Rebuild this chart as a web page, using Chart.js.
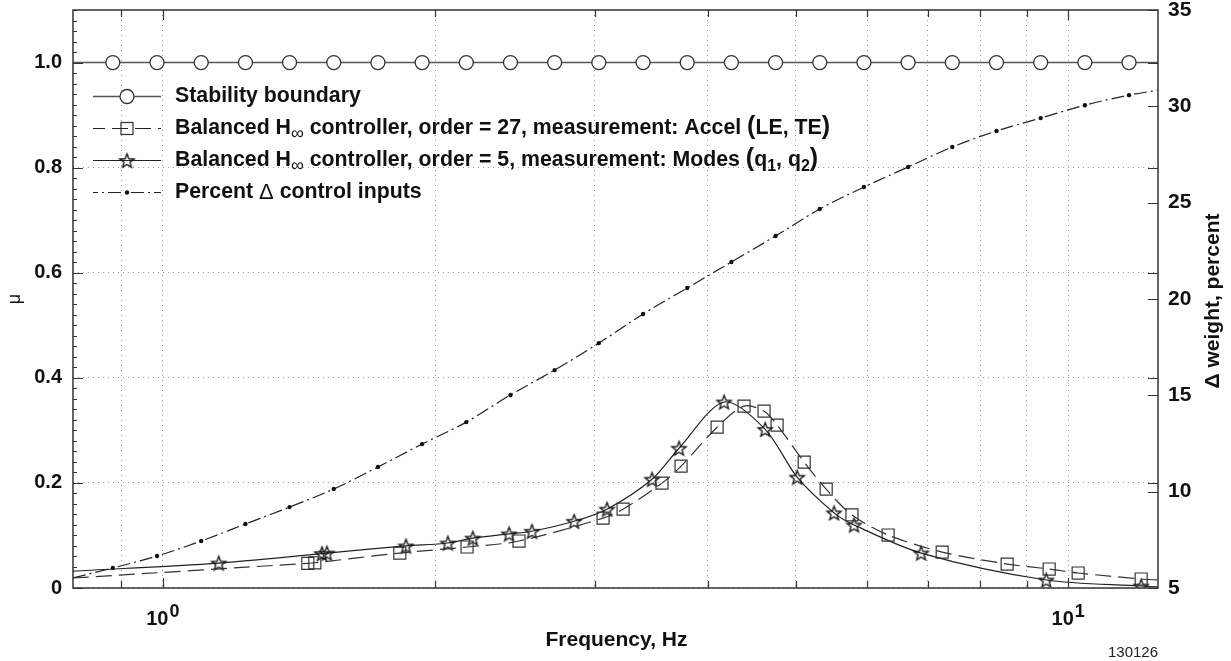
<!DOCTYPE html>
<html><head><meta charset="utf-8">
<script src="https://cdn.jsdelivr.net/npm/chart.js@4.4.0/dist/chart.umd.min.js"></script>
<style>html,body{margin:0;padding:0;background:#fff;}#wrap{width:1231px;height:661px;position:relative;}</style>
</head><body><div id="wrap"><canvas id="c" width="1231" height="661"></canvas></div>
<script>
// ---------- axis ranges / ticks ----------
const xRange = [0.7958, 12.566];
const xGridTicks = [0.9, 1, 2, 3, 4, 5, 6, 7, 8, 9, 10];
const xLabelTicks = [1, 10];
const xLabelExponents = ['0', '1'];
const muRange = [0, 1.1];
const muTicks = [0, 0.2, 0.4, 0.6, 0.8, 1.0];
const weightRange = [5, 35];
const weightTicks = [5, 10, 15, 20, 25, 30, 35];

// ---------- series ----------
const stabilityFreq = [0.7958, 0.8806, 0.9854, 1.1026, 1.2339, 1.3804, 1.5446, 1.7283, 1.9339, 2.1638, 2.4210, 2.7089, 3.0311, 3.3920, 3.7949, 4.2462, 4.7512, 5.3163, 5.9484, 6.6556, 7.4473, 8.3330, 9.3239, 10.433, 11.673, 12.566];
const stabilityMu   = [1, 1, 1, 1, 1, 1, 1, 1, 1, 1, 1, 1, 1, 1, 1, 1, 1, 1, 1, 1, 1, 1, 1, 1, 1, 1];

const accelFreq = [0.7958, 1.446, 1.472, 1.827, 2.168, 2.474, 3.064, 3.224, 3.559, 3.736, 4.095, 4.385, 4.614, 4.770, 5.110, 5.404, 5.770, 6.326, 7.258, 8.562, 9.528, 10.257, 12.04, 12.566];
const accelMu   = [0.019, 0.0470, 0.0480, 0.0665, 0.078, 0.0894, 0.133, 0.150, 0.1996, 0.232, 0.306, 0.346, 0.3365, 0.310, 0.2395, 0.188, 0.139, 0.1008, 0.0684, 0.0456, 0.0361, 0.0285, 0.0171, 0.0152];

const modesFreq = [0.7958, 1.153, 1.499, 1.518, 1.856, 2.065, 2.200, 2.412, 2.557, 2.846, 3.095, 3.470, 3.717, 4.168, 4.627, 5.019, 5.513, 5.800, 6.879, 9.456, 12.04, 12.566];
const modesMu   = [0.032, 0.0475, 0.0655, 0.0665, 0.080, 0.0856, 0.095, 0.103, 0.108, 0.127, 0.150, 0.207, 0.266, 0.354, 0.302, 0.211, 0.143, 0.120, 0.0665, 0.0152, 0.0038, 0.002];

const weightFreq = [0.7958, 0.8806, 0.9854, 1.1026, 1.2339, 1.3804, 1.5446, 1.7283, 1.9339, 2.1638, 2.4210, 2.7089, 3.0311, 3.3920, 3.7949, 4.2462, 4.7512, 5.3163, 5.9484, 6.6556, 7.4473, 8.3330, 9.3239, 10.433, 11.673, 12.566];
const weightPct  = [5.52, 6.04, 6.66, 7.44, 8.32, 9.20, 10.14, 11.28, 12.47, 13.61, 15.02, 16.31, 17.71, 19.22, 20.57, 21.92, 23.27, 24.67, 25.81, 26.85, 27.89, 28.72, 29.39, 30.06, 30.58, 30.84];

const seriesNames = ['Stability boundary', 'Balanced H∞ controller, order = 27, measurement: Accel (LE, TE)', 'Balanced H∞ controller, order = 5, measurement: Modes (q1, q2)', 'Percent Δ control inputs'];

// ---------- helpers ----------
const FONT = "'Liberation Sans', Arial, Helvetica, sans-serif";
const toPts = (xs, ys) => xs.map((x, i) => ({x: x, y: ys[i]}));
const edgeless = (r) => (ctx) => (ctx.dataIndex === 0 || ctx.dataIndex === ctx.dataset.data.length - 1) ? 0 : r;

function makeStar(R) {
  const s = Math.ceil(R * 2 + 4);
  const cv = document.createElement('canvas');
  cv.width = s; cv.height = s;
  const c = cv.getContext('2d');
  const cx = s / 2, cy = s / 2 + 0.8, r = R * 0.42;
  c.beginPath();
  for (let k = 0; k < 10; k++) {
    const rr = k % 2 === 0 ? R : r;
    const a = -Math.PI / 2 + k * Math.PI / 5;
    const px = cx + rr * Math.cos(a), py = cy + rr * Math.sin(a);
    if (k === 0) c.moveTo(px, py); else c.lineTo(px, py);
  }
  c.closePath();
  c.strokeStyle = '#111'; c.lineWidth = 1.3; c.stroke();
  return cv;
}
const starImg = makeStar(7.5);

const DASH_ACCEL = [16, 7];
const DASH_WEIGHT = [13, 4, 2, 4];

const fitBox = (w, h) => (s) => {
  if (w !== null) s.width = w;
  if (h !== null) s.height = h;
  s.paddingTop = 0; s.paddingBottom = 0; s.paddingLeft = 0; s.paddingRight = 0;
};

const decor = {
  id: 'decor',
  afterDraw(chart) {
    const ctx = chart.ctx;
    const a = chart.chartArea;
    const xs = chart.scales.x, ys = chart.scales.y, y2 = chart.scales.y2;
    ctx.save();
    ctx.strokeStyle = '#333'; ctx.lineWidth = 1.5; ctx.setLineDash([]);
    ctx.strokeRect(a.left, a.top, a.right - a.left, a.bottom - a.top);
    ctx.lineWidth = 1.2;
    ctx.beginPath();
    xGridTicks.forEach(v => {
      const px = Math.round(xs.getPixelForValue(v)) + 0.5;
      const len = xLabelTicks.includes(v) ? 10 : 7;
      ctx.moveTo(px, a.bottom); ctx.lineTo(px, a.bottom - len);
      ctx.moveTo(px, a.top); ctx.lineTo(px, a.top + len);
    });
    muTicks.forEach(v => {
      const py = Math.round(ys.getPixelForValue(v)) + 0.5;
      ctx.moveTo(a.left, py); ctx.lineTo(a.left + 10, py);
      ctx.moveTo(a.right, py); ctx.lineTo(a.right - 10, py);
    });
    for (let i = 1; i <= 55; i++) {
      if (i % 10 === 0) continue;
      const py = Math.round(ys.getPixelForValue(i * 0.02)) + 0.5;
      ctx.moveTo(a.left, py); ctx.lineTo(a.left + 4, py);
    }
    weightTicks.forEach(v => {
      const py = Math.round(y2.getPixelForValue(v)) + 0.5;
      ctx.moveTo(a.right, py); ctx.lineTo(a.right - 10, py);
    });
    ctx.stroke();

    ctx.fillStyle = '#111';
    ctx.textBaseline = 'alphabetic';
    xLabelTicks.forEach((v, i) => {
      const px = xs.getPixelForValue(v);
      ctx.font = 'bold 20px ' + FONT;
      const w1 = ctx.measureText('10').width;
      ctx.font = 'bold 18px ' + FONT;
      const w2 = ctx.measureText(xLabelExponents[i]).width;
      const start = px - (w1 + w2 + 1) / 2;
      ctx.font = 'bold 20px ' + FONT;
      ctx.textAlign = 'left';
      ctx.fillText('10', start, 625);
      ctx.font = 'bold 18px ' + FONT;
      ctx.fillText(xLabelExponents[i], start + w1 + 1, 617);
    });

    ctx.font = 'bold 21px ' + FONT;
    ctx.textAlign = 'center';
    ctx.fillText('Frequency, Hz', (a.left + a.right) / 2 + 1, 646);
    ctx.save();
    ctx.translate(1213, 301); ctx.rotate(-Math.PI / 2);
    ctx.textBaseline = 'middle';
    ctx.fillText('Δ weight, percent', 0, 0);
    ctx.restore();
    ctx.save();
    ctx.translate(15, 299); ctx.rotate(-Math.PI / 2);
    ctx.textBaseline = 'middle';
    ctx.font = '18px ' + FONT;
    ctx.fillText('μ', 0, 0);
    ctx.restore();
    ctx.font = '15px ' + FONT;
    ctx.textAlign = 'right';
    ctx.fillStyle = '#222';
    ctx.fillText('130126', 1158, 657);

    const rows = [
      {y: 96, kind: 'circle', parts: [{t: 'Stability boundary'}]},
      {y: 128, kind: 'rect', parts: [{t: 'Balanced H'}, {t: '∞', sub: 1}, {t: ' controller, order = 27, measurement: Accel '}, {t: '(', big: 1}, {t: 'LE, TE'}, {t: ')', big: 1}]},
      {y: 160, kind: 'star', parts: [{t: 'Balanced H'}, {t: '∞', sub: 1}, {t: ' controller, order = 5, measurement: Modes '}, {t: '(', big: 1}, {t: 'q'}, {t: '1', sub: 1}, {t: ', q'}, {t: '2', sub: 1}, {t: ')', big: 1}]},
      {y: 192, kind: 'dot', parts: [{t: 'Percent '}, {t: 'Δ', sym: 1}, {t: ' control inputs'}]}
    ];
    rows.forEach(r => {
      const y = r.y + 0.5;
      ctx.strokeStyle = r.kind === 'circle' ? '#555' : '#222';
      ctx.lineWidth = r.kind === 'circle' ? 1.5 : 1.2;
      ctx.setLineDash(r.kind === 'rect' ? DASH_ACCEL : (r.kind === 'dot' ? DASH_WEIGHT : []));
      ctx.lineDashOffset = r.kind === 'dot' ? 8 : (r.kind === 'rect' ? 4 : 0);
      ctx.beginPath(); ctx.moveTo(93, y); ctx.lineTo(161, y); ctx.stroke();
      ctx.setLineDash([]); ctx.lineDashOffset = 0;
      const mx = 127;
      if (r.kind === 'circle') {
        ctx.beginPath(); ctx.arc(mx, y, 7, 0, Math.PI * 2);
        ctx.fillStyle = '#fff'; ctx.fill();
        ctx.strokeStyle = '#333'; ctx.lineWidth = 1.3; ctx.stroke();
      } else if (r.kind === 'rect') {
        ctx.strokeStyle = '#333'; ctx.lineWidth = 1.2;
        ctx.strokeRect(mx - 6, y - 6, 12, 12);
      } else if (r.kind === 'star') {
        ctx.drawImage(starImg, mx - starImg.width / 2, y - starImg.height / 2);
      } else {
        ctx.beginPath(); ctx.arc(mx, y, 2.2, 0, Math.PI * 2);
        ctx.fillStyle = '#111'; ctx.fill();
      }
      let tx = 175;
      ctx.fillStyle = '#111';
      ctx.textAlign = 'left';
      ctx.textBaseline = 'middle';
      r.parts.forEach(p => {
        let size = 21.3, dy = 0, weight = 'bold ';
        if (p.sub) { size = p.t === '∞' ? 18 : 16; dy = 6; }
        if (p.big) { size = 25; dy = -1; }
        if (p.t === '∞' || p.sym) weight = '';
        if (p.sym) size = 22;
        ctx.font = weight + size + 'px ' + FONT;
        ctx.fillText(p.t, tx, y + dy);
        tx += ctx.measureText(p.t).width;
      });
    });
    ctx.restore();
  }
};

new Chart(document.getElementById('c'), {
  type: 'line',
  data: {
    datasets: [
      {
        label: seriesNames[0], yAxisID: 'y',
        data: toPts(stabilityFreq, stabilityMu),
        borderColor: '#555', borderWidth: 1.5,
        pointStyle: 'circle', pointRadius: edgeless(7),
        pointBackgroundColor: '#fff', pointBorderColor: '#333', pointBorderWidth: 1.3
      },
      {
        label: seriesNames[1], yAxisID: 'y',
        data: toPts(accelFreq, accelMu),
        borderColor: '#333', borderWidth: 1.2, borderDash: DASH_ACCEL,
        tension: 0.3,
        pointStyle: 'rect', pointRadius: edgeless(8.5),
        pointBackgroundColor: 'rgba(0,0,0,0)', pointBorderColor: '#333', pointBorderWidth: 1.2
      },
      {
        label: seriesNames[2], yAxisID: 'y',
        data: toPts(modesFreq, modesMu),
        borderColor: '#222', borderWidth: 1.2,
        tension: 0.3,
        pointStyle: starImg, pointRadius: edgeless(7),
        pointBackgroundColor: 'rgba(0,0,0,0)', pointBorderColor: '#222'
      },
      {
        label: seriesNames[3], yAxisID: 'y2',
        data: toPts(weightFreq, weightPct),
        borderColor: '#222', borderWidth: 1.2, borderDash: DASH_WEIGHT,
        cubicInterpolationMode: 'monotone',
        pointStyle: 'circle', pointRadius: edgeless(2.2),
        pointBackgroundColor: '#111', pointBorderWidth: 0
      }
    ]
  },
  options: {
    responsive: false, animation: false, devicePixelRatio: 1,
    layout: {padding: {top: 10, left: 0, right: 0, bottom: 0}},
    plugins: {legend: {display: false}, tooltip: {enabled: false}},
    elements: {line: {fill: false}},
    scales: {
      x: {
        type: 'logarithmic', min: xRange[0], max: xRange[1],
        afterBuildTicks: s => { s.ticks = xGridTicks.map(v => ({value: v})); },
        afterFit: fitBox(null, 73),
        ticks: {display: false},
        grid: {color: '#999', lineWidth: 1, drawTicks: false},
        border: {display: false, dash: [1, 4]}
      },
      y: {
        position: 'left', min: muRange[0], max: muRange[1],
        afterBuildTicks: s => { s.ticks = muTicks.map(v => ({value: v})); },
        afterFit: fitBox(73, null),
        ticks: {
          font: {family: FONT, size: 20, weight: 'bold'}, color: '#111', padding: 11,
          callback: v => v === 0 ? '0' : v.toFixed(1)
        },
        grid: {color: '#999', lineWidth: 1, drawTicks: false},
        border: {display: false, dash: [1, 4]}
      },
      y2: {
        position: 'right', min: weightRange[0], max: weightRange[1],
        afterBuildTicks: s => { s.ticks = weightTicks.map(v => ({value: v})); },
        afterFit: fitBox(73, null),
        ticks: {font: {family: FONT, size: 21, weight: 'bold'}, color: '#111', padding: 10},
        grid: {display: false, drawTicks: false},
        border: {display: false}
      }
    }
  },
  plugins: [decor]
});
</script>
</body></html>
